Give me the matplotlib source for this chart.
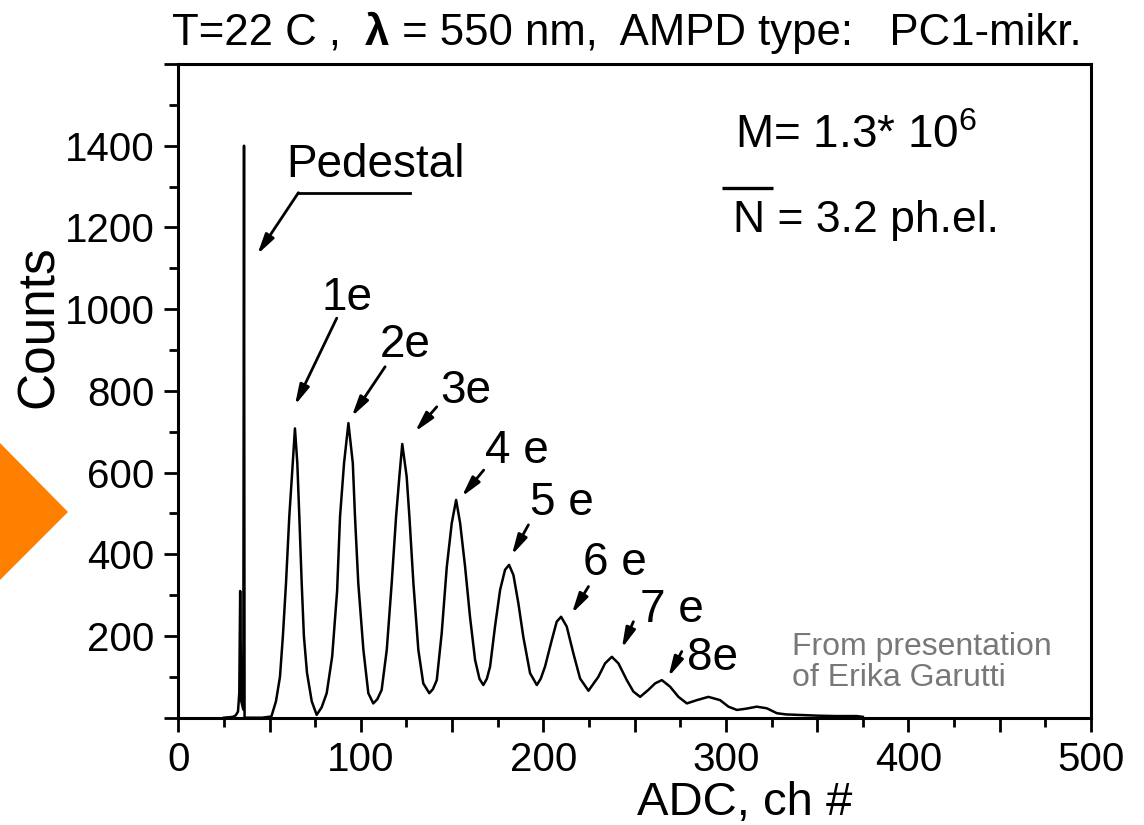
import matplotlib
matplotlib.use("Agg")
import matplotlib.pyplot as plt
from matplotlib.patches import Polygon
from matplotlib.offsetbox import TextArea, HPacker, AnchoredOffsetbox

plt.rcParams['font.family'] = ['Liberation Sans', 'DejaVu Sans']
plt.rcParams['mathtext.fontset'] = 'custom'
plt.rcParams['mathtext.rm'] = 'Liberation Sans'
plt.rcParams['mathtext.it'] = 'Liberation Sans:italic'
plt.rcParams['mathtext.bf'] = 'Liberation Sans:bold'

# ---------------- data ----------------
adc_channel = [25, 30, 31.5, 32.7, 33.4, 33.9, 34.5, 35.6, 36.0, 36.3, 40, 46, 51,
               53.5, 55.7, 57.3, 59.0, 60.8, 62.7, 63.9, 65.2, 66.3, 67.6, 68.8, 70.5, 73.1, 75.8,
               78.5, 81.3, 84.3, 87.0, 88.6, 90.8, 93.2, 95.6, 96.8, 98.6, 101.4, 104.1, 106.8,
               109.0, 111.4, 114.2, 116.9, 119.3, 121.1, 122.7, 125.1, 126.6, 128.8, 131.5, 134.2, 137.5,
               139.5, 141.6, 144.3, 147.1, 149.8, 152.2, 154.4, 157.1, 159.8, 162.6, 165.0, 167.1,
               169.0, 170.8, 173.5, 176.3, 179.0, 181.2, 183.6, 186.3, 189.0, 192.7, 196.4,
               198.5, 200.9, 204.6, 207.3, 209.7, 212.8, 216.4, 220.1, 224.7,
               230.1, 233.8, 237.5, 241.1, 245.7, 249.3, 253.0,
               257.5, 261.2, 264.9, 269.4, 274.0, 278.6,
               284.1, 290.4, 296.8, 301.4, 306.0, 311.0, 316.9, 322.4, 327.9, 333.0, 338.9,
               350.0, 360.0, 371.7, 375.0]
counts = [0, 2, 6, 15, 60, 310, 40, 20, 1400, 0, 0, 0, 3,
          40, 100, 200, 329, 492, 623, 708, 623, 492, 329, 200, 110, 40, 7,
          25, 60, 150, 310, 492, 623, 721, 623, 492, 329, 166, 60, 35,
          45, 68, 166, 329, 492, 590, 670, 590, 492, 329, 166, 84, 60,
          70, 92, 207, 370, 476, 533, 476, 370, 247, 141, 95, 80,
          95, 125, 223, 313, 362, 374, 349, 280, 198, 109, 80,
          95, 125, 190, 235, 247, 223, 158, 96, 66,
          100, 133, 149, 133, 92, 64, 51,
          68, 84, 92, 76, 51, 35,
          43, 51, 43, 27, 19, 22, 27, 23, 11, 8, 7,
          5, 4, 4, 2]

peak_labels = ["1e", "2e", "3e", "4 e", "5 e", "6 e", "7 e", "8e"]
peak_label_x = [78.6, 110.5, 143.4, 168.0, 192.7, 221.8, 253.0, 278.6]
peak_label_y = [998, 884, 770, 623, 496, 349, 235, 117]
arrow_start_x = [86.8, 113.3, 141.6, 167.3, 191.8, 224.7, 249.3, 275.8]
arrow_start_y = [978, 859, 761, 606, 472, 321, 235, 162]
arrow_tip_x = [63.9, 95.0, 129.7, 155.3, 182.7, 215.6, 243.0, 268.5]
arrow_tip_y = [765, 737, 700, 541, 398, 255, 170, 100]

x_major = [0, 50, 100, 150, 200, 250, 300, 350, 400, 450, 500]
x_major_labels = ["0", "", "100", "", "200", "", "300", "", "400", "", "500"]
x_minor = [25, 75, 125, 175, 225, 275, 325, 375, 425, 475]
y_major = [0, 200, 400, 600, 800, 1000, 1200, 1400, 1600]
y_major_labels = ["", "200", "400", "600", "800", "1000", "1200", "1400", ""]
y_minor = [100, 300, 500, 700, 900, 1100, 1300, 1500]

title_parts = ["T=22 C ,  ", "\u03bb", " = 550 nm,  AMPD type:   PC1-mikr."]

# ---------------- figure ----------------
W, H = 1144, 825
fig = plt.figure(figsize=(W / 100, H / 100), dpi=100)
fig.patch.set_facecolor('white')
ax = fig.add_axes([178.3 / W, 1 - 717.7 / H, (1091 - 178.3) / W, (717.7 - 64) / H])

ax.plot(adc_channel, counts, color='black', lw=1.8, solid_joinstyle='round', zorder=3)

ax.set_xlim(0, 500)
ax.set_ylim(0, 1600)
ax.set_xticks(x_major)
ax.set_xticklabels(x_major_labels)
ax.set_xticks(x_minor, minor=True)
ax.set_yticks(y_major)
ax.set_yticklabels(y_major_labels)
ax.set_yticks(y_minor, minor=True)
ax.tick_params(axis='both', which='major', direction='out', length=10, width=2,
               labelsize=29, pad=7, colors='black')
ax.tick_params(axis='both', which='minor', direction='out', length=6.5, width=2)
ax.tick_params(top=False, right=False, which='both')
for s in ax.spines.values():
    s.set_linewidth(2.2)

ax.set_xlabel("ADC, ch #", fontsize=34)
ax.xaxis.set_label_coords(0.621, -0.097)
ax.set_ylabel("Counts", fontsize=37)
ax.yaxis.set_label_coords(-0.125, 0.598)

# peak labels with arrows
arrow_style = dict(arrowstyle='-|>,head_length=1.2,head_width=0.3', color='black',
                   lw=2.0, shrinkA=0, shrinkB=0)
for lab, lx, ly, sx, sy, tx, ty in zip(peak_labels, peak_label_x, peak_label_y,
                                       arrow_start_x, arrow_start_y, arrow_tip_x, arrow_tip_y):
    ax.text(lx, ly, lab, fontsize=33, ha='left', va='baseline')
    ax.annotate('', xy=(tx, ty), xytext=(sx, sy), arrowprops=arrow_style)

# pedestal label and leader
ax.text(59.4, 1324, "Pedestal", fontsize=33, ha='left', va='baseline')
ax.plot([127, 65.8], [1285, 1285], color='black', lw=2.0)
ax.annotate('', xy=(43.3, 1134), xytext=(65.8, 1285), arrowprops=arrow_style)

# info texts
ax.text(305, 1395, r"M= 1.3* 10$^{6}$", fontsize=33, ha='left', va='baseline')
ax.text(304, 1189, "N = 3.2 ph.el.", fontsize=32, ha='left', va='baseline')
ax.plot([297.9, 325.9], [1296, 1296], color='black', lw=2.4, solid_capstyle='butt')

# title with bold lambda
ta = [TextArea(title_parts[0], textprops=dict(fontsize=31.5)),
      TextArea(title_parts[1], textprops=dict(fontsize=31.5, fontweight='bold')),
      TextArea(title_parts[2], textprops=dict(fontsize=31.5))]
pack = HPacker(children=ta, align='baseline', pad=0, sep=0)
anch = AnchoredOffsetbox(loc='lower left', child=pack, pad=0, borderpad=0, frameon=False,
                         bbox_to_anchor=(172 / W, 1 - 54 / H), bbox_transform=fig.transFigure)
fig.add_artist(anch)

# overlay note
fig.text(792 / W, 1 - 632 / H, "From presentation\nof Erika Garutti", fontsize=23,
         color='#787878', ha='left', va='top', linespacing=1.05)

# orange triangle at left edge
tri = Polygon([(0, 1 - 443 / H), (68 / W, 1 - 512 / H), (0, 1 - 580 / H)],
              closed=True, transform=fig.transFigure, facecolor='#FF7F00', edgecolor='none')
fig.add_artist(tri)

fig.savefig("out.png", dpi=100, facecolor='white')
